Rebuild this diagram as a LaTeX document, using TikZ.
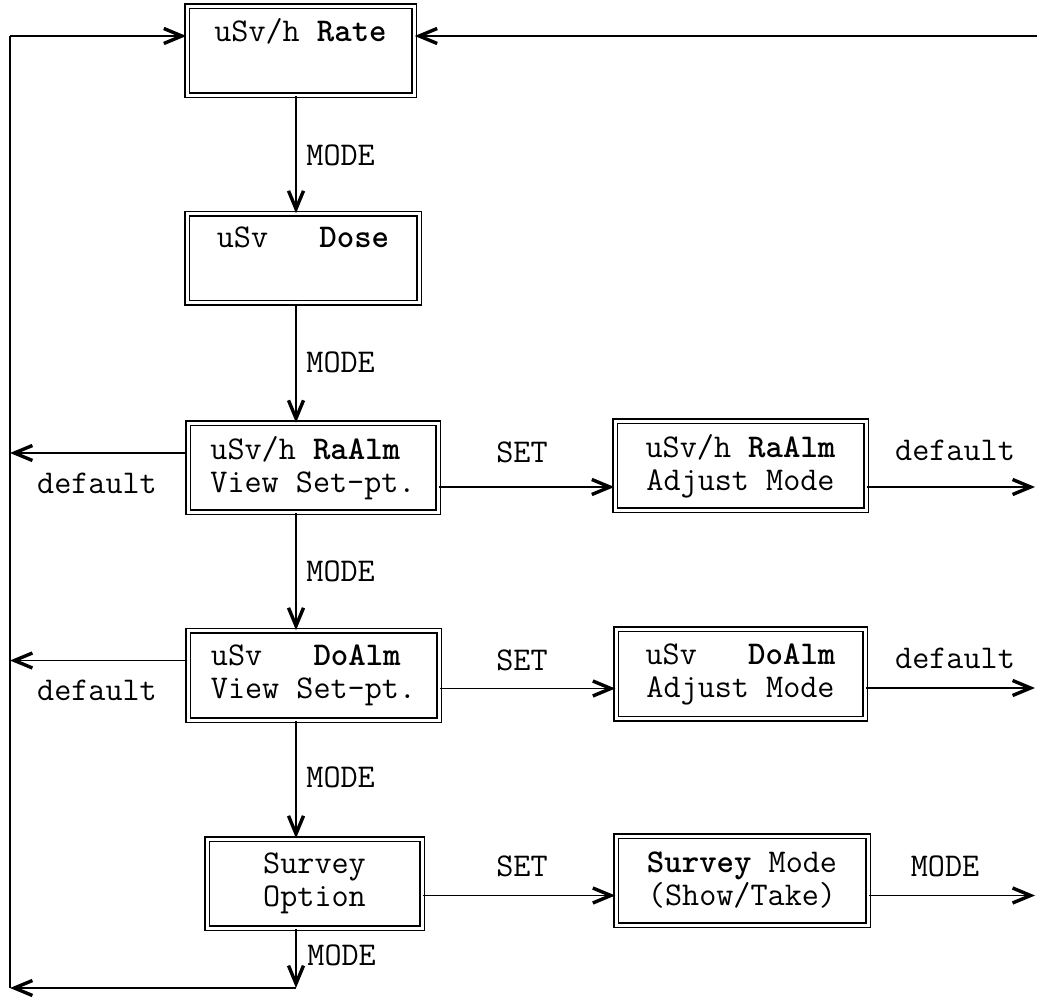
\documentclass[tikz,border=0pt]{standalone}
\usepackage{fontspec}
\usetikzlibrary{arrows.meta}

\begin{document}
\begin{tikzpicture}[x=0.5pt,y=0.5pt,
  font=\ttfamily\fontsize{16.6}{16.5}\selectfont,
  lcd/.style={draw,double,line width=0.75pt,double distance=1.5pt,minimum height=44.5pt,inner sep=0pt},
  arr/.style={line width=0.85pt,-{Straight Barb[length=9pt,width=7.5pt,line width=1.7pt]}},
  lbl/.style={inner sep=0pt}]

   \useasboundingbox (0,0) rectangle (1037,996);

   \node[lcd,align=left,minimum width=113.5pt] (rate) at (300.5,945) {uSv/h \textbf{Rate}\\\strut};
   \node[lcd,align=left,minimum width=116pt] (dose) at (303,737.5) {uSv\ \ \ \textbf{Dose}\\\strut};
   \node[lcd,align=left,minimum width=125pt] (raalm) at (313,528) {uSv/h \textbf{RaAlm}\\View Set-pt.};
   \node[lcd,align=left,minimum width=125.5pt] (doalm) at (313.5,320.5) {uSv\ \ \ \textbf{DoAlm}\\View Set-pt.};
   \node[lcd,align=center,minimum width=107.5pt] (option) at (314.5,112.5) {Survey\\Option};
   \node[lcd,align=center,minimum width=125.5pt] (raadj) at (740.5,530) {uSv/h \textbf{RaAlm}\\Adjust Mode};
   \node[lcd,align=center,minimum width=124.5pt] (doadj) at (740.5,322) {uSv\ \ \ \textbf{DoAlm}\\Adjust Mode};
   \node[lcd,align=center,minimum width=126pt] (survey) at (742,115.5) {\textbf{Survey} Mode\\(Show/Take)};

   \coordinate (spine) at (296,0);
   \coordinate (tl) at (10,960);
   \coordinate (tr) at (1037,960);
   \coordinate (bl) at (10,8);
   \coordinate (bm) at (296,8);
   \coordinate (rr) at (1035,0);

   \draw[arr] (rate.south -| spine) -- (dose.north -| spine);
   \draw[arr] (dose.south -| spine) -- (raalm.north -| spine);
   \draw[arr] (raalm.south -| spine) -- (doalm.north -| spine);
   \draw[arr] (doalm.south -| spine) -- (option.north -| spine);
   \draw[arr] (option.south -| spine) -- (bm);
   \node[lbl,anchor=west] (m1) at (306,841) {MODE};
   \node[lbl,anchor=west] (m2) at (306,634) {MODE};
   \node[lbl,anchor=west] (m3) at (306,425) {MODE};
   \node[lbl,anchor=west] (m4) at (306,219) {MODE};
   \node[lbl,anchor=west] (m5) at (307,41) {MODE};

   \draw[line width=0.85pt] (tl) -- (bl);
   \draw[arr] (bm) -- (bl);
   \draw[arr] (tl) -- (tl -| rate.west);
   \draw[arr] (tr) -- (tr -| rate.east);

   \draw[arr] ([yshift=7.5pt]raalm.west) -- ([yshift=7.5pt]raalm.west -| tl);
   \draw[arr] ([yshift=7.5pt]doalm.west) -- ([yshift=7.5pt]doalm.west -| tl);
   \node[lbl] (d1) at (97,513) {default};
   \node[lbl] (d2) at (97,306) {default};

   \draw[arr] ([yshift=-9.5pt]raalm.east) -- ([yshift=-9.5pt]raalm.east -| raadj.west);
   \draw[arr] ([yshift=-6.5pt]doalm.east) -- ([yshift=-6.5pt]doalm.east -| doadj.west);
   \draw[arr] ([yshift=-6pt]option.east) -- ([yshift=-6pt]option.east -| survey.west);
   \node[lbl] (s1) at (522,544) {SET};
   \node[lbl] (s2) at (522,336) {SET};
   \node[lbl] (s3) at (522,130) {SET};

   \draw[arr] ([yshift=-10.5pt]raadj.east) -- ([yshift=-10.5pt]raadj.east -| rr);
   \draw[arr] ([yshift=-7pt]doadj.east) -- ([yshift=-7pt]doadj.east -| rr);
   \draw[arr] ([yshift=-7.5pt]survey.east) -- ([yshift=-7.5pt]survey.east -| rr);
   \node[lbl] (d3) at (955,546) {default};
   \node[lbl] (d4) at (955,338) {default};
   \node[lbl] (m6) at (945,130) {MODE};

  \end{tikzpicture}
\end{document}
